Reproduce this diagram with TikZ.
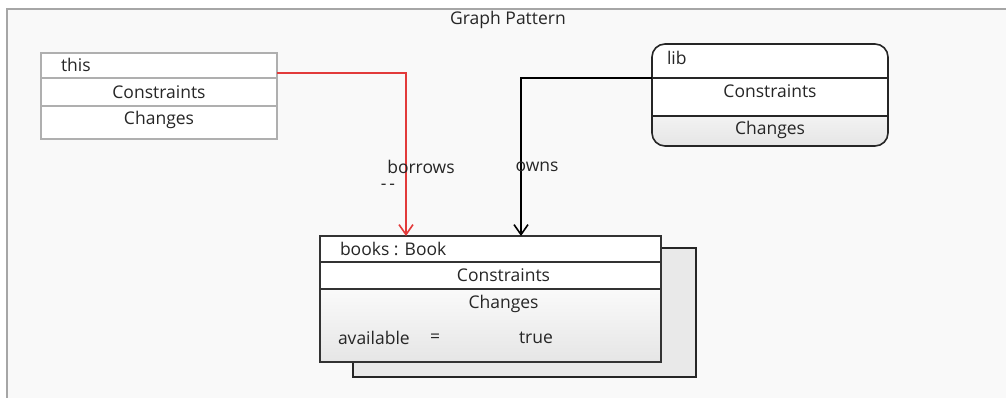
\documentclass[tikz,border=0pt]{standalone}
\usepackage{fontspec}
\setmainfont{Open Sans}
\usetikzlibrary{arrows.meta, positioning}
\usepackage{xcolor}

\definecolor{panegray}{HTML}{F9F9F9}
\definecolor{framegray}{HTML}{A6A6A6}
\definecolor{thisgray}{HTML}{AFAFAF}
\definecolor{linkred}{HTML}{E23A3A}
\definecolor{shadowgray}{HTML}{E9E9E9}
\definecolor{textgray}{HTML}{262626}

\begin{document}
\begin{tikzpicture}[
    x=1pt, y=1pt,
    every node/.style={font=\fontsize{17.5}{20}\selectfont, text=textgray, inner sep=0pt, outer sep=0pt},
    row/.style={rectangle, minimum width=236pt, anchor=north},
    thisrow/.style={row, draw=thisgray, line width=1.5pt, fill=white},
    plainrow/.style={row},
    booksrow/.style={row, minimum width=341pt, draw=black!80, line width=1.6pt, fill=white},
    link/.style={line width=1.8pt, -{Straight Barb[length=10pt, width=14pt, line width=1.6pt]}},
    borrowlink/.style={link, draw=linkred},
    ownlink/.style={link, draw=black}
]
\useasboundingbox (0,0) rectangle (1006,398);

% pane and title
\fill[panegray] (7,0) rectangle (1006,389);
\draw[framegray, line width=1.5pt] (7,0) -- (7,389) -- (1006,389);
\node (title) at (508,378) {Graph Pattern};

% this
\node[thisrow, minimum height=25pt] (thisHead) at (159,345) {};
\node[thisrow, minimum height=28pt, below=0pt of thisHead] (thisCons) {Constraints};
\node[thisrow, minimum height=33pt, below=0pt of thisCons] (thisChanges) {};
\node[anchor=north] (thisChangesLbl) at ([yshift=-5pt]thisChanges.north) {Changes};
\node[right=20pt of thisHead.west, yshift=1pt] (thisName) {this};

% lib
\node[plainrow, minimum height=34pt] (libHead) at (770,354) {};
\node[plainrow, minimum height=38pt, below=0pt of libHead] (libCons) {};
\node[plainrow, minimum height=30pt, below=0pt of libCons] (libChanges) {};
\begin{scope}
  \clip[rounded corners=13pt] (libHead.north west) rectangle (libChanges.south east);
  \fill[white] (libHead.north west) rectangle (libCons.south east);
  \shade[top color=black!5, bottom color=black!10] (libChanges.north west) rectangle (libChanges.south east);
\end{scope}
\draw[black!85, line width=1.6pt, rounded corners=13pt] (libHead.north west) rectangle (libChanges.south east);
\draw[black!85, line width=1.5pt] (libCons.north west) -- (libCons.north east);
\draw[black!85, line width=1.5pt] (libCons.south west) -- (libCons.south east);
\node (libConsLbl) at ([yshift=6pt]libCons) {Constraints};
\node (libChangesLbl) at ([yshift=1pt]libChanges) {Changes};
\node[right=15pt of libHead.west, yshift=3pt] (libName) {lib};

% books with its stacked shadow
\fill[shadowgray] (353,21) rectangle (696,150);
\draw[black!85, line width=1.6pt] (353,21) rectangle (696,150);
\node[booksrow, minimum height=26pt] (booksHead) at (490.5,162) {};
\node[booksrow, minimum height=27pt, below=0pt of booksHead] (booksCons) {};
\node[booksrow, minimum height=73pt, below=0pt of booksCons,
      top color=black!2, bottom color=black!10] (booksChanges) {};
\node[right=20pt of booksHead.west] (booksName) {books : Book};
\node (booksConsLbl) at ([xshift=13pt]booksCons) {Constraints};
\node[anchor=north] (booksChangesLbl) at ([xshift=13pt, yshift=-6pt]booksChanges.north) {Changes};
\node[anchor=west] (attrName) at (338,60) {available};
\node (attrOp) at (435,60) {=};
\node (attrValue) at (536,60) {true};

% links
\coordinate (borrowEnd) at ([xshift=86pt]booksHead.north west);
\coordinate (ownEnd) at ([xshift=201pt]booksHead.north west);
\draw[borrowlink] ([yshift=5pt]thisHead.south east) -| (borrowEnd);
\draw[ownlink] (libHead.south west) -| (ownEnd);

\node (borrowsLbl) at (421,231) {borrows};
\node (borrowsDash) at (388,211) {-\,-};
\node (ownsLbl) at (537,231) {owns};

\end{tikzpicture}
\end{document}
